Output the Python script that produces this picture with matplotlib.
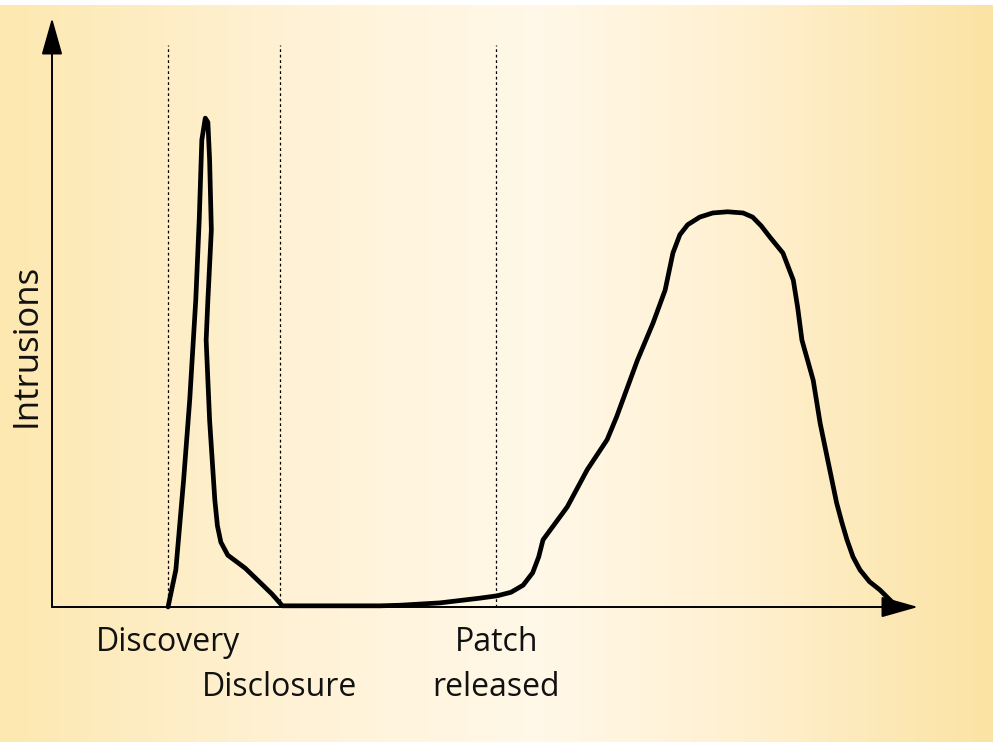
import matplotlib
matplotlib.use("Agg")
import matplotlib.pyplot as plt
import numpy as np

# curve: time (0..100 along x axis), intrusions (0..100 along y axis)
spike_t = [13.4, 14.3, 15.2, 15.9, 16.6, 17.0, 17.3, 17.7, 18.0, 18.2, 18.4, 18.0,
           17.8, 18.2, 18.8, 19.1, 19.5, 20.3, 22.3, 24.0, 25.4, 26.6]
spike_n = [0.0, 6.3, 21.6, 35.1, 52.1, 65.7, 79.3, 83.0, 82.3, 75.9, 64.0, 52.1,
           45.3, 31.7, 18.2, 13.8, 11.0, 8.8, 6.6, 4.2, 2.2, 0.2]
flat_t = [30.9, 37.9, 40.2, 44.8, 49.4, 51.4]
flat_n = [0.2, 0.2, 0.3, 0.7, 1.5, 1.9]
hump_t = [53.0, 54.4, 55.5, 56.2, 56.7, 58.0, 59.5, 61.8, 64.1, 65.2, 67.6, 69.4,
          70.8, 71.7, 72.5, 73.4, 74.8, 76.3, 78.0, 79.8, 80.9, 81.9, 82.9, 84.4,
          85.6, 86.1, 86.6, 87.9, 88.7, 89.5, 90.6, 91.2, 91.8, 92.5, 93.3, 94.4,
          95.6, 97.1]
hump_n = [2.5, 3.7, 5.8, 8.5, 11.4, 14.0, 17.0, 23.3, 28.4, 32.3, 41.9, 48.2,
          53.8, 60.1, 63.2, 64.9, 66.2, 66.9, 67.1, 66.9, 66.2, 64.7, 62.8, 60.1,
          55.5, 50.9, 45.3, 38.5, 31.2, 25.5, 17.7, 14.4, 11.4, 8.5, 6.3, 4.3,
          2.9, 0.7]

events = [13.4, 26.3, 51.3]
event_top = 95.4
labels = ["Discovery", "Disclosure", "Patch", "released"]

t = spike_t + flat_t + hump_t
n = spike_n + flat_n + hump_n

W, H = 993, 742
fig = plt.figure(figsize=(W / 100, H / 100), dpi=100)

# background: pale yellow at the edges, almost white in the middle
bg = fig.add_axes([0, 0, 1, 1])
stops = [0.0, 0.30, 0.54, 0.75, 1.0]
cols = np.array([[253, 232, 176], [255, 242, 214], [255, 248, 232],
                 [255, 240, 208], [251, 227, 163]]) / 255.0
xs = np.linspace(0, 1, W)
grad = np.stack([np.interp(xs, stops, cols[:, k]) for k in range(3)], axis=-1)
img = np.repeat(grad[None, :, :], H, axis=0)
img[:5] = 1.0
bg.imshow(img, aspect="auto", extent=[0, 1, 0, 1], origin="upper")
bg.axis("off")

ax = fig.add_axes([52 / W, (H - 607) / H, 866 / W, 589 / H])
ax.patch.set_alpha(0)
ax.set_xlim(0, 100)
ax.set_ylim(0, 100)
ax.axis("off")

# axes with arrow heads
arrow = dict(arrowstyle="-|>,head_length=23,head_width=6.5", mutation_scale=1,
             lw=1.4, color="black", shrinkA=0, shrinkB=0)
ax.annotate("", xy=(0, 100), xytext=(0, 0), arrowprops=arrow, annotation_clip=False)
ax.annotate("", xy=(100, 0), xytext=(0, 0), arrowprops=arrow, annotation_clip=False)

for e in events:
    ax.plot([e, e], [0, event_top], color="black", lw=0.9,
            linestyle=(0, (2.2, 2.2)), clip_on=False)

ax.plot(t, n, color="black", lw=3.4, solid_joinstyle="round",
        solid_capstyle="round", clip_on=False)

font = dict(family=["Open Sans", "DejaVu Sans"], fontsize=23, color="#111111",
            ha="center", va="center", clip_on=False)
ax.text(events[0], -6.0, labels[0], **font)
ax.text(events[1], -13.6, labels[1], **font)
ax.text(events[2], -6.0, labels[2], **font)
ax.text(events[2], -13.6, labels[3], **font)
fig.text(27 / W, 1 - 345 / H, "Intrusions", rotation=90,
         **{**font, "fontsize": 25})

fig.savefig("out.png", dpi=100)
